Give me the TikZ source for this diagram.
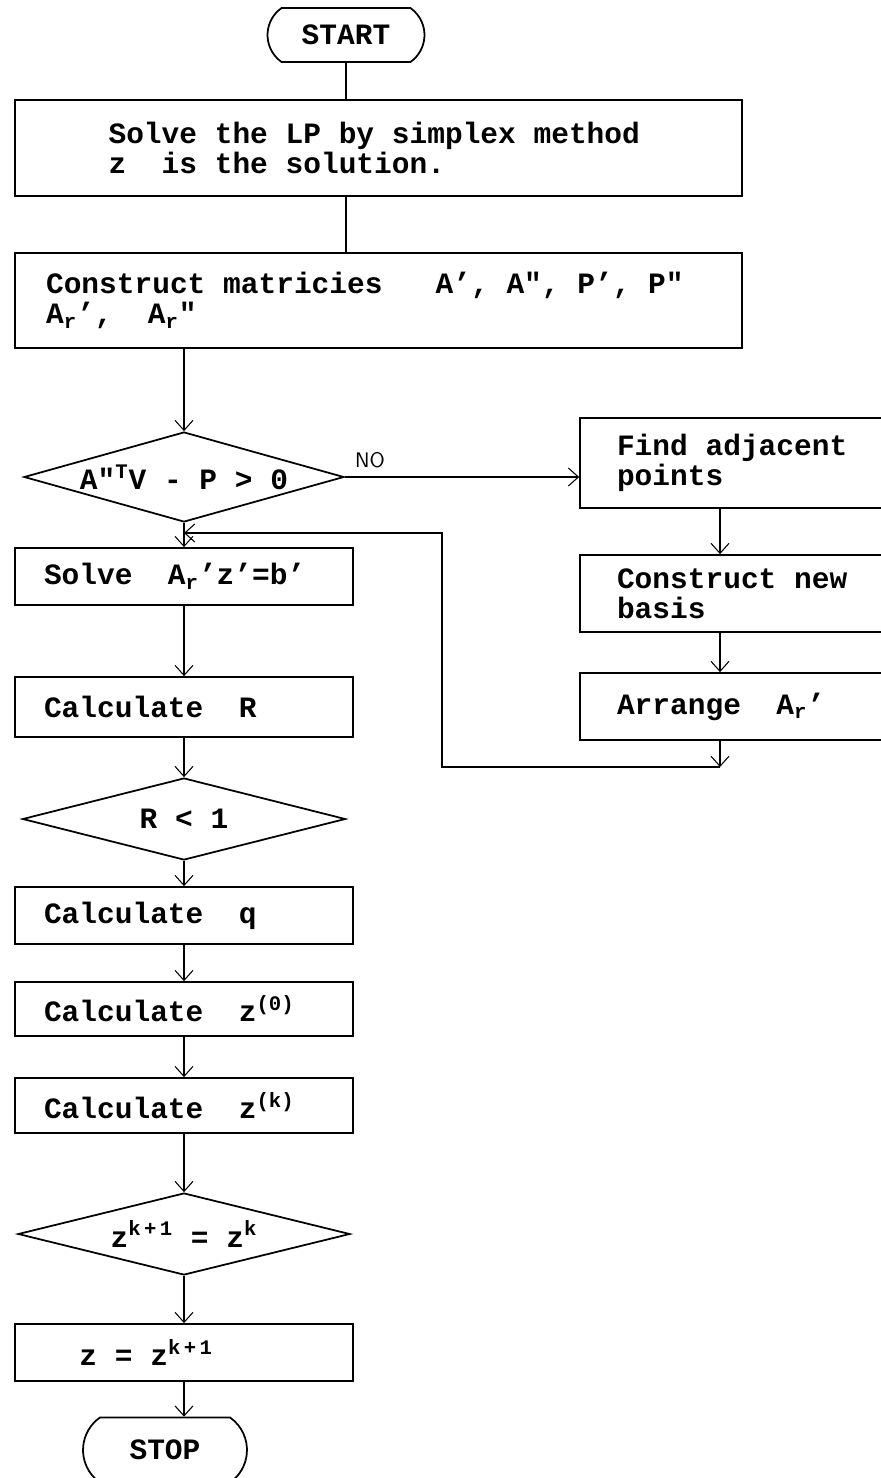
\documentclass[tikz,border=0pt]{standalone}
\usepackage{fontspec}
\newfontfamily\pontos{Liberation Mono}
\newcommand{\letrapontos}{\pontos\bfseries\fontsize{16.8pt}{17pt}\selectfont}
\newcommand{\espacofixo}{\spaceskip=0.6em\relax\xspaceskip=0.6em\relax}
\usetikzlibrary{arrows.meta}
\usetikzlibrary{shapes.geometric}
\usetikzlibrary{shapes.misc}
\tikzset{
  caixa/.style={draw, line width=1pt, align=left, text width=#1, inner xsep=0.58cm, inner ysep=0pt, font=\letrapontos, execute at begin node=\espacofixo},
  caixa/.default=5.6cm,
  decisao/.style={draw, diamond, aspect=3.5, inner sep=0pt, line width=1pt, font=\letrapontos, execute at begin node=\espacofixo},
  terminal/.style={draw, rounded rectangle, rounded rectangle arc length=110, inner sep=0pt, line width=1pt, font=\letrapontos},
  seta/.style={-{Straight Barb[length=2mm,width=3.6mm]}, line width=0.6pt},
  linha/.style={line width=0.6pt},
}

\begin{document}
\begin{tikzpicture}[x=0.02cm, y=-0.02cm]
  \useasboundingbox (0,0) rectangle (881,1478);
  \clip (0,0) rectangle (881,1478);
  % coluna principal
  \node[terminal, minimum width=3.14cm, minimum height=1.08cm] (ini) at (346,35) {START};
  \node[caixa=10.8cm, inner xsep=1.87cm, minimum height=1.92cm] (lp) at (378.5,148) {Solve~the~LP~by~simplex~method\\z~~is~the~solution.};
  \node[caixa=13.3cm, inner xsep=0.62cm, minimum height=1.9cm] (mat) at (378.5,300.5) {Construct~matricies~~~A’,~A",~P’,~P"\\A\textsubscript{r}’,~~A\textsubscript{r}"};
  \node[decisao, minimum width=6.4cm, minimum height=1.8cm] (teste) at (184,477) {A"\textsuperscript{T}V~-~P~>~0};
  \node[caixa, minimum height=1.14cm] (sol) at (184,576.5) {Solve~~A\textsubscript{r}’z’=b’};
  \node[caixa, minimum height=1.2cm] (calcr) at (184,707) {Calculate~~R};
  \node[decisao, minimum width=6.46cm, minimum height=1.64cm] (menor) at (184,819) {R~<~1};
  \node[caixa, minimum height=1.14cm] (calcq) at (184,915.5) {Calculate~~q};
  \node[caixa, minimum height=1.08cm] (calc0) at (184,1009) {Calculate~~z\textsuperscript{(0)}};
  \node[caixa, minimum height=1.1cm] (calck) at (184,1105.5) {Calculate~~z\textsuperscript{(k)}};
  \node[decisao, minimum width=6.64cm, minimum height=1.64cm] (igual) at (184,1234) {z\textsuperscript{k\,+\,1}~=~z\textsuperscript{k}};
  \node[caixa, minimum height=1.14cm] (zfim) at (184,1352.5) {~~z~=~z\textsuperscript{k\,+\,1}};
  \node[terminal, minimum width=3.28cm, minimum height=1.3cm] (fim) at (165,1450) {STOP};
  % ramo da direita
  \node[caixa=6.4cm, inner xsep=0.74cm, minimum height=1.8cm] (r1) at (777,463) {Find~adjacent\\points};
  \node[caixa=6.4cm, inner xsep=0.74cm, minimum height=1.54cm] (r2) at (777,593.5) {Construct~new\\basis};
  \node[caixa=6.4cm, inner xsep=0.74cm, minimum height=1.34cm] (r3) at (777,706.5) {Arrange~~A\textsubscript{r}’};
  \node[font=\sffamily\large] (nao) at (370,460) {NO};
  \coordinate (eixo) at (720,0);
  \coordinate (juncao) at (720,767);
  \coordinate (retorno) at (442,533);
  % ligacoes
  \draw[linha] (ini.south) -- (ini.south |- lp.north);
  \draw[linha] (lp.south -| ini.south) -- (mat.north -| ini.south);
  \draw[seta] (mat.south -| teste.north) -- (teste.north);
  \draw[seta] (teste.east) -- (teste.east -| r1.west);
  \draw[seta] (eixo |- r1.south) -- (eixo |- r2.north);
  \draw[seta] (eixo |- r2.south) -- (eixo |- r3.north);
  \draw[seta] (eixo |- r3.south) -- (juncao);
  \draw[seta] (juncao) -| (retorno) -- (retorno -| sol.north);
  \draw[seta] (teste.south) -- (sol.north);
  \foreach \a/\b in {sol/calcr, calcr/menor, menor/calcq, calcq/calc0, calc0/calck, calck/igual, igual/zfim}
    \draw[seta] (\a) -- (\b);
  \draw[seta] (zfim.south) -- (zfim.south |- fim.north);
\end{tikzpicture}
\end{document}
